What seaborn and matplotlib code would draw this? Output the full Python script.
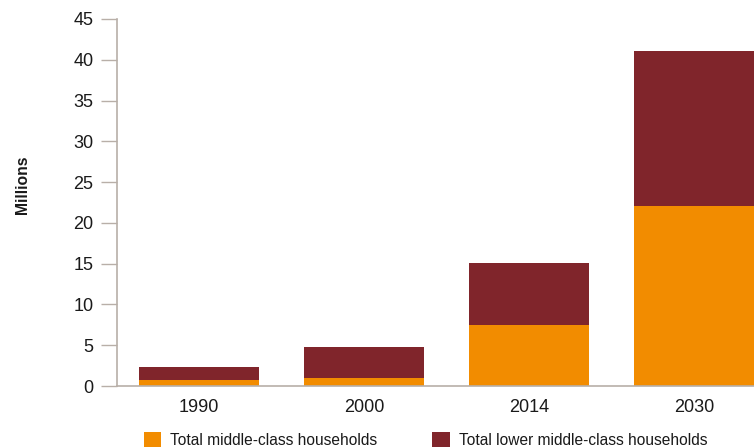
import matplotlib
matplotlib.use("Agg")
import matplotlib.pyplot as plt
import seaborn as sns
import pandas as pd
from matplotlib.patches import Patch

years = ["1990", "2000", "2014", "2030"]
middle_class = [0.75, 1.0, 7.5, 22.05]
lower_middle_class = [1.58, 3.8, 7.6, 19.0]
series_labels = ["Total middle-class households", "Total lower middle-class households"]
yticks = [0, 5, 10, 15, 20, 25, 30, 35, 40, 45]

ORANGE = "#F28C00"
DARKRED = "#80252B"
SPINE = "#B8AFA8"

sns.set_theme(style="white")
plt.rcParams["font.family"] = ["Liberation Sans", "DejaVu Sans"]

df = pd.DataFrame({
    "year": years,
    "middle": middle_class,
    "total": [m + l for m, l in zip(middle_class, lower_middle_class)],
})

fig = plt.figure(figsize=(7.54, 4.48), dpi=100)
W, H = 754, 448
ax = fig.add_axes([116.5 / W, (H - 386) / H, (776.5 - 116.5) / W, (386 - 19) / H])

sns.barplot(data=df, x="year", y="total", order=years, color=DARKRED,
            width=0.727, saturation=1, ax=ax, linewidth=0)
sns.barplot(data=df, x="year", y="middle", order=years, color=ORANGE,
            width=0.727, saturation=1, ax=ax, linewidth=0)

ax.set_xlim(-0.5, 3.5)
ax.set_ylim(0, 45)
ax.set_yticks(yticks)
ax.set_yticklabels([str(t) for t in yticks])
ax.set_xlabel("")
ax.set_ylabel("")

for s in ["top", "right"]:
    ax.spines[s].set_visible(False)
for s in ["left", "bottom"]:
    ax.spines[s].set_color(SPINE)
    ax.spines[s].set_linewidth(1.2)

ax.tick_params(axis="y", which="major", left=True, length=11.5, width=1.0,
               color=SPINE, labelsize=13, pad=5, labelcolor="#1a1a1a")
ax.tick_params(axis="x", which="major", bottom=False, labelsize=13, pad=3,
               labelcolor="#1a1a1a")

fig.text(22 / W, (H - 185) / H, "Millions", rotation=90, ha="center", va="center",
         fontsize=11.3, fontweight="bold", color="#1a1a1a")

handles = [Patch(facecolor=ORANGE, edgecolor="none"),
           Patch(facecolor=DARKRED, edgecolor="none")]
fig.legend(handles, series_labels, loc="center left",
           bbox_to_anchor=(139 / W, (H - 440) / H), ncol=2, frameon=False,
           fontsize=11.2, handlelength=1.1, handleheight=1.1, handletextpad=0.6,
           columnspacing=3.55, borderaxespad=0, borderpad=0.3,
           labelcolor="#1a1a1a")

fig.savefig("out.png", dpi=100)
